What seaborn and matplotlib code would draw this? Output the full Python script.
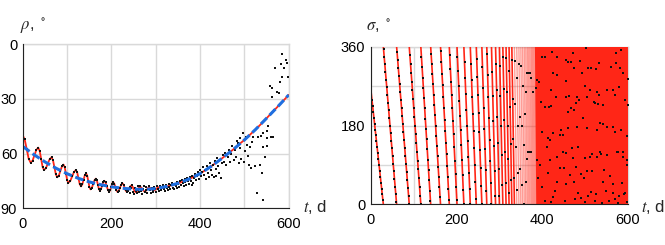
import numpy as np
import pandas as pd
import matplotlib
matplotlib.use("Agg")
import matplotlib.pyplot as plt
import seaborn as sns

# ---- left panel: rho (deg) vs t (days) ----
# model curve (extremes + intermediate points)
rho_curve_t = [0, 4.5, 9, 13.5, 18, 22.3, 26.5, 30.8, 35, 38.3, 41.5, 44.8, 48, 52.3, 56.5, 60.8,
               65, 68.3, 71.5, 74.8, 78, 81.5, 85, 88.5, 92, 94.8, 97.5, 100.3, 103, 107.3, 111.5, 115.8,
               120, 122.9, 125.8, 128.6, 131.5, 134.4, 137.3, 140.1, 143, 145.5, 148, 150.5, 153, 156, 159, 162,
               165, 167.3, 169.5, 171.8, 174, 176.5, 179, 181.5, 184, 186.8, 189.5, 192.3, 195, 197.3, 199.5, 201.8,
               204, 206.5, 209, 211.5, 214, 216.8, 219.5, 222.3, 225, 227.4, 229.8, 232.1, 234.5, 237.1, 239.8, 242.4,
               245, 247.5, 250, 252.5, 255, 257.5, 260, 262.5, 265, 267.5, 270, 272.5, 275, 277.5, 280, 282.5,
               285, 287.8, 290.5, 293.3, 296, 298.8, 301.5, 304.3, 307, 315, 325, 340, 350, 360, 375, 390,
               400, 412, 425, 437, 450, 462, 475, 487, 500, 512, 525, 537, 550, 562, 575, 587, 600]
rho_curve = [50, 52.2, 57.5, 62.8, 65, 63.8, 60.9, 57.9, 56.7, 58.5, 62.9, 67.2, 69, 68.0, 65.5, 63.0,
             62, 63.6, 67.5, 71.4, 73, 72.0, 69.5, 67.0, 66, 67.5, 71.0, 74.5, 76, 75.0, 72.5, 70.0,
             69, 70.3, 73.5, 76.7, 78, 76.9, 74.4, 71.9, 70.8, 72.1, 75.2, 78.3, 79.6, 78.7, 76.7, 74.6,
             73.7, 74.7, 77.0, 79.3, 80.3, 79.5, 77.6, 75.7, 74.9, 75.8, 77.9, 80.0, 80.9, 80.1, 78.3, 76.4,
             75.6, 76.4, 78.3, 80.2, 81.0, 80.3, 78.7, 77.0, 76.3, 77.0, 78.6, 80.2, 80.9, 80.4, 79.2, 78.0,
             77.5, 78.0, 79.4, 80.7, 81.2, 80.8, 79.7, 78.6, 78.2, 78.6, 79.5, 80.4, 80.8, 80.5, 79.7, 78.9,
             78.6, 78.8, 79.4, 80.0, 80.2, 79.9, 79.3, 78.7, 78.4, 78.8, 78.0, 77.2, 76.3, 75.5, 74.0, 72.2,
             71.0, 69.1, 67.0, 64.8, 62.5, 60.2, 57.7, 55.1, 52.5, 49.8, 46.8, 43.9, 40.6, 37.6, 34.3, 31.2, 27.8]

# smooth trend (blue dashed)
trend_t = [0, 25, 50, 75, 100, 125, 150, 175, 200, 225, 250, 275, 300,
           325, 350, 375, 400, 425, 450, 475, 500, 525, 550, 575, 600]
trend_rho = [56, 60.5, 64.5, 68, 71, 73.5, 75.5, 77, 78.2, 79, 79.5, 79.6, 79.2,
             78, 76.3, 74, 71, 67, 62.5, 57.7, 52.5, 46.8, 40.6, 34.3, 27.8]

# scattered observations after ~240 d
rho_obs_t = [241, 243, 245, 247, 249, 251, 253, 255, 257, 259, 261, 263, 265, 267, 269, 271, 273, 275, 277, 279,
             281, 283, 285, 287, 289, 291, 293, 295, 297, 299,
             301, 303, 305, 307, 309, 311, 313, 315, 317, 319, 321, 323, 325, 327, 329, 331, 333, 335, 337, 339,
             341, 343, 345, 347, 349,
             351, 353, 355, 357, 359, 361, 363, 365, 367, 369, 371, 373, 375, 377, 379, 381, 383, 385, 387, 389,
             391, 393, 395, 397, 399,
             401, 403, 405, 407, 409, 411, 413, 415, 417, 419, 421, 423, 425, 427, 429, 431, 433, 435, 437, 439,
             441, 443, 445, 447, 449,
             451, 454, 457, 459, 462, 465, 467, 470, 473, 476, 478, 481, 484, 486, 488, 490, 490, 493, 496, 499,
             501, 503, 506, 509, 511, 513, 516, 518, 520, 524, 528, 531, 535, 537, 539, 541, 543, 543, 547, 550,
             550, 552, 554, 558, 559, 562, 563, 565, 567, 570, 574, 577, 580, 583, 586, 586, 590, 594, 597, 599]
rho_obs = [78.2, 81.6, 79.0, 77.4, 80.8, 82.0, 78.6, 80.4, 81.8, 77.6, 79.8, 81.2, 78.0, 80.6, 82.2, 79.2, 77.8, 81.0, 80.0, 78.4,
           81.6, 79.4, 77.6, 80.2, 81.4, 78.6, 79.8, 80.8, 78.2, 79.6,
           81.0, 78.0, 79.4, 80.6, 77.6, 79.0, 80.2, 78.2, 77.0, 79.6, 80.4, 77.4, 78.6, 79.8, 76.8, 78.2, 79.4, 77.0, 76.2, 78.8,
           79.6, 76.4, 77.6, 78.8, 75.4,
           76.8, 78.2, 75.0, 77.0, 74.6, 76.2, 78.0, 74.0, 75.4, 77.2, 73.4, 75.0, 76.8, 72.6, 74.8, 77.0, 72.0, 76.2, 73.6, 71.4,
           74.2, 72.4, 70.2, 73.8, 71.0,
           68.8, 72.4, 70.0, 67.6, 71.8, 69.2, 74.0, 66.6, 70.4, 68.0, 72.8, 65.2, 69.0, 71.6, 66.4, 73.0, 64.0, 68.4, 72.2, 62.6,
           66.8, 70.6, 63.6, 73.4, 65.0,
           61.0, 64.6, 59.4, 66.2, 62.0, 57.8, 64.8, 60.2, 55.6, 63.6, 58.0, 61.7, 52.8, 54.3, 65.0, 51.6, 57.0, 62.8, 48.6, 64.4,
           58.6, 50.7, 55.0, 61.3, 66.2, 56.5, 68.0, 53.4, 50.7, 66.6, 81.8, 50.7, 66.2, 50.3, 70.8, 56.2, 48.5, 85.4, 62.0, 47.4,
           51.3, 56.0, 44.7, 22.9, 50.7, 28.8, 24.2, 50.7, 36.0, 13.2, 26.0, 27.0, 20.9, 11.0, 5.5, 17.8, 13.2, 8.6, 10.1, 17.8]

# ---- right panel: sigma (deg) vs t (days) ----
sigma_start = 265
# times where sigma wraps from 0 back to 360
wrap_t = [29.5, 60.5, 90, 117, 140, 163, 183.5, 201.5, 217.5, 232.5, 246.5, 259.5, 271, 282, 291.5,
          300.5, 308.5, 316, 323, 329.5, 335.5, 341, 346, 350.5, 354.5, 358.5, 362, 365.5, 368.5, 371.5,
          374.5, 377, 379.5, 382, 384.5, 387,
          390, 393, 396, 399, 402, 405, 408, 411, 414, 417, 420, 423, 426, 429, 432, 435, 438, 441, 444, 447, 450,
          453, 456, 459, 462, 465, 468, 471, 474, 477, 480, 483, 486, 489, 492, 495, 498, 501, 504, 507, 510,
          513, 516, 519, 522, 525, 528, 531, 534, 537, 540, 543, 546, 549, 552, 555, 558, 561, 564, 567, 570,
          573, 576, 579, 582, 585, 588, 591, 594, 597, 600]
obs_step = 1.5
obs_end = 376
sigma_obs_t = [456, 471.6, 517.5, 537, 578, 590, 452, 479, 491.8, 504, 516, 466, 474.7, 456, 498, 545.5, 558.7,
               543, 565, 586.7, 597.7, 484.8, 514.4, 506.6, 526, 549.4, 566.5, 580.5, 590.7, 594.5, 453.7, 477,
               491.8, 501, 523.7, 540, 557, 570, 578, 597.7,
               422.6, 471.6, 502.7, 572.7, 583.7, 400.7, 407.7, 435.7, 456, 461.4, 467, 488.7, 507.4, 514.4,
               526.8, 533, 561, 572.7, 582, 426.4, 434.3, 474.7, 493.3, 456.7, 589, 600, 389, 393.7, 385.2,
               378, 421, 432.6, 398.4, 456, 463.7, 481, 485.6, 479.3, 468.4, 474.7, 501, 512.8, 527.7, 533.8,
               551, 566.5, 579, 569.7, 593.7, 600, 505.8, 522, 523.7, 530, 541.6, 460, 421, 417, 407.7,
               400.7, 414.8, 418.7, 424.9, 442, 445, 449.7, 461.4, 480.9, 496.5, 504.3, 527.7, 535.5, 543.3,
               551, 565, 570.4, 584.4, 597.7, 411, 434.3, 449.7, 469.2, 484.8, 500.4, 512, 527.7, 535.5,
               552.5, 574.3, 588.3, 597.7, 387.6, 418.7,
               389.5, 401, 414.8, 424.9, 434.3, 442, 395, 430, 407, 420]
sigma_obs = [117.9, 105, 114, 115, 120, 120, 82, 84.5, 69, 76, 76.8, 67, 51, 46, 59, 78, 65,
             50, 45.7, 48, 89.8, 25, 28, 19, 22.8, 31, 26.5, 19, 22.8, 25, 8.3, 12,
             13.6, 4.5, 8.3, 2.2, 8.3, 11.4, 2.2, 5.3,
             348.6, 346.7, 356.3, 346.7, 352.5, 337, 337, 337, 329.6, 325, 325, 328, 311, 311,
             308.3, 323.9, 312.9, 323.9, 311, 301, 295.3, 311, 301, 282.3, 301, 287, 284, 280, 265,
             257.2, 260.6, 245.8, 234.4, 245.8, 247.4, 245.8, 238.2, 230.7, 219.3, 215.4, 270.2, 260.6, 257.2, 249.2,
             260.6, 260.6, 267.2, 249.2, 238.2, 226.8, 245.8, 234.4, 230.7, 229.1, 226.8, 211.6, 224.5, 223, 223,
             165.9, 150.7, 146.9, 162.1, 158.3, 169.7, 158.3, 173.6, 177.3, 196.4, 173.6, 169.7, 185, 183.4,
             177.3, 177.3, 165.9, 169.7, 156, 131.6, 108.7, 120.2, 127.9, 131.6, 105, 108.7, 108.7, 120.2,
             112.6, 120.2, 108.7, 101.2, 101.2, 101.2,
             59.4, 40.4, 70.8, 17.5, 51.8, 82.2, 90, 30, 8, 5]

RED = "#ff2617"
BLUE = "#1f6fe0"
GRID = "#d9d9d9"
DOT = dict(color="#111111", s=4.5, marker="s", linewidth=0, zorder=4)

sns.set_style("white")
plt.rcParams["font.family"] = ["Liberation Sans", "DejaVu Sans"]
plt.rcParams["mathtext.fontset"] = "stix"

fig = plt.figure(figsize=(6.65, 2.45), dpi=100)
ax1 = fig.add_axes([22.7 / 665, (245 - 208.3) / 245, 266 / 665, 164 / 245])
ax2 = fig.add_axes([370.7 / 665, (245 - 204.3) / 245, 257 / 665, 157.6 / 245])

# left panel
sns.lineplot(x=rho_curve_t, y=rho_curve, sort=False, estimator=None, color=RED, lw=1.3, zorder=3, ax=ax1)
early = [(t, r) for t, r in zip(rho_curve_t, rho_curve) if t <= 240]
sns.scatterplot(x=[p[0] for p in early], y=[p[1] for p in early], ax=ax1, **DOT)
sns.scatterplot(x=rho_obs_t, y=rho_obs, ax=ax1, **DOT)
sns.lineplot(x=trend_t, y=trend_rho, sort=False, estimator=None, color=BLUE, lw=2.2,
             linestyle=(0, (2.8, 1.2)), zorder=5, ax=ax1)

# right panel: sawtooth segments
seg_t0 = [0] + wrap_t[:-1]
seg_s0 = [sigma_start] + [360] * (len(wrap_t) - 1)
rows = []
for k, (a, b, c) in enumerate(zip(seg_t0, seg_s0, wrap_t)):
    rows.append((k, a, b))
    rows.append((k, c, 0))
segs = pd.DataFrame(rows, columns=["k", "t", "s"])
segs["start"] = segs.groupby("k")["t"].transform("min")
sparse = segs[segs["start"] < 330]
mid = segs[(segs["start"] >= 330) & (segs["start"] < 387)]
dense = segs[segs["start"] >= 387]
sns.lineplot(data=sparse, x="t", y="s", units="k", estimator=None, sort=False, color=RED, lw=1.2,
             zorder=3, ax=ax2)
sns.lineplot(data=mid, x="t", y="s", units="k", estimator=None, sort=False, color=RED, lw=1.0,
             alpha=0.45, zorder=3, ax=ax2)
sns.lineplot(data=dense, x="t", y="s", units="k", estimator=None, sort=False, color=RED, lw=2.2,
             zorder=3, ax=ax2)

phase_t = [0] + wrap_t
phase = [0] + [sigma_start + 360 * k for k in range(len(wrap_t))]
obs_t = np.arange(0, obs_end, obs_step)
obs_s = np.mod(sigma_start - np.interp(obs_t, phase_t, phase), 360)
sns.scatterplot(x=obs_t, y=obs_s, ax=ax2, **DOT)
sns.scatterplot(x=sigma_obs_t, y=sigma_obs, ax=ax2, **DOT)

# axes cosmetics
ax1.set_xlim(0, 600)
ax1.set_ylim(90, 0)
ax1.set_xticks(range(0, 601, 100))
ax1.set_xticklabels(["0", "", "200", "", "400", "", "600"])
ax1.set_yticks([0, 30, 60, 90])
ax1.set_yticklabels(["0", "30", "60", "90"])
ax1.set_yticks(np.arange(0, 91, 6), minor=True)

ax2.set_xlim(0, 600)
ax2.set_ylim(0, 360)
ax2.set_xticks(range(0, 601, 100))
ax2.set_xticklabels(["0", "", "200", "", "400", "", "600"])
ax2.set_yticks([0, 90, 180, 270, 360])
ax2.set_yticklabels(["0", "", "180", "", "360"])
ax2.set_yticks(np.arange(0, 361, 18), minor=True)

for ax in (ax1, ax2):
    ax.set_xticks(np.arange(0, 601, 20), minor=True)
    ax.set_xlabel("")
    ax.set_ylabel("")
    ax.grid(True, which="major", color=GRID, lw=1.0)
    ax.set_axisbelow(True)
    for s in ("top", "right"):
        ax.spines[s].set_color(GRID)
        ax.spines[s].set_linewidth(1.0)
    for s in ("left", "bottom"):
        ax.spines[s].set_color("#222222")
        ax.spines[s].set_linewidth(0.8)
        ax.spines[s].set_zorder(6)
    ax.tick_params(which="major", direction="in", length=0, labelsize=10.5, colors="k")
    ax.tick_params(which="minor", direction="in", length=2, width=0.6, color="#333333")
    ax.tick_params(axis="x", which="major", pad=6)
    ax.tick_params(axis="y", which="major", pad=4)

fig.text(20 / 665, 1 - 26 / 245, r"$\rho$, $^\circ$", fontsize=12, va="center", ha="left")
fig.text(303 / 665, 1 - 207 / 245, r"$t$, d", fontsize=12, va="center", ha="left")
fig.text(366 / 665, 1 - 26 / 245, r"$\sigma$, $^\circ$", fontsize=12, va="center", ha="left")
fig.text(641 / 665, 1 - 207 / 245, r"$t$, d", fontsize=12, va="center", ha="left")

fig.savefig("out.png", dpi=100)
